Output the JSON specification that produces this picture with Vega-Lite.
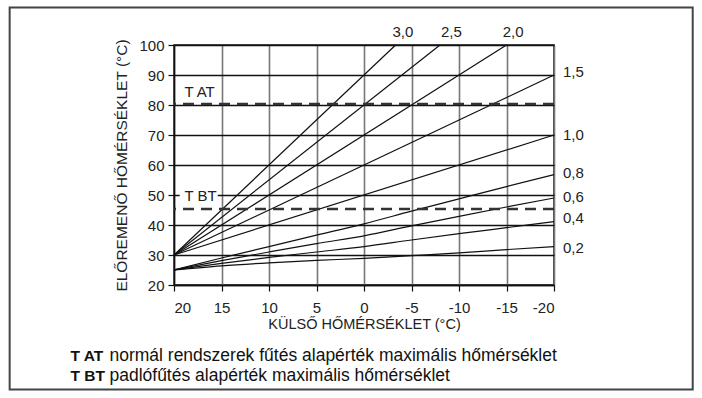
{
  "$schema": "https://vega.github.io/schema/vega-lite/v6.json",
  "width": 380,
  "height": 240,
  "autosize": "none",
  "padding": {"left": 174, "top": 45, "right": 148, "bottom": 113},
  "background": "white",
  "config": {
    "view": {"stroke": "#111", "strokeWidth": 1.5},
    "font": "Liberation Sans, Arial, sans-serif"
  },
  "datasets": {
    "curves": [
      {"k": "3,0", "t": 20, "v": 30}, {"k": "3,0", "t": -3.33, "v": 100},
      {"k": "2,5", "t": 20, "v": 30}, {"k": "2,5", "t": -8, "v": 100},
      {"k": "2,0", "t": 20, "v": 30}, {"k": "2,0", "t": -15, "v": 100},
      {"k": "1,5", "t": 20, "v": 30}, {"k": "1,5", "t": -20, "v": 90},
      {"k": "1,0", "t": 20, "v": 30}, {"k": "1,0", "t": -20, "v": 70},
      {"k": "0,8", "t": 20, "v": 25}, {"k": "0,8", "t": 15, "v": 29}, {"k": "0,8", "t": 10, "v": 32.8}, {"k": "0,8", "t": 5, "v": 36.6}, {"k": "0,8", "t": 0, "v": 40.4}, {"k": "0,8", "t": -5, "v": 44.6}, {"k": "0,8", "t": -10, "v": 48.7}, {"k": "0,8", "t": -15, "v": 52.8}, {"k": "0,8", "t": -20, "v": 56.8},
      {"k": "0,6", "t": 20, "v": 25}, {"k": "0,6", "t": 15, "v": 28.1}, {"k": "0,6", "t": 10, "v": 31}, {"k": "0,6", "t": 5, "v": 33.8}, {"k": "0,6", "t": 0, "v": 36.4}, {"k": "0,6", "t": -5, "v": 39.7}, {"k": "0,6", "t": -10, "v": 42.9}, {"k": "0,6", "t": -15, "v": 46}, {"k": "0,6", "t": -20, "v": 49},
      {"k": "0,4", "t": 20, "v": 25}, {"k": "0,4", "t": 15, "v": 27.2}, {"k": "0,4", "t": 10, "v": 29.2}, {"k": "0,4", "t": 5, "v": 31}, {"k": "0,4", "t": 0, "v": 32.8}, {"k": "0,4", "t": -5, "v": 35}, {"k": "0,4", "t": -10, "v": 37.1}, {"k": "0,4", "t": -15, "v": 39.1}, {"k": "0,4", "t": -20, "v": 41.1},
      {"k": "0,2", "t": 20, "v": 25}, {"k": "0,2", "t": 15, "v": 26.4}, {"k": "0,2", "t": 10, "v": 27.4}, {"k": "0,2", "t": 5, "v": 28.2}, {"k": "0,2", "t": 0, "v": 28.9}, {"k": "0,2", "t": -5, "v": 29.8}, {"k": "0,2", "t": -10, "v": 30.7}, {"k": "0,2", "t": -15, "v": 31.8}, {"k": "0,2", "t": -20, "v": 32.8}
    ],
    "toplabels": [
      {"k": "3,0", "t": -4.1, "v": 104.4},
      {"k": "2,5", "t": -9.2, "v": 104.4},
      {"k": "2,0", "t": -15.7, "v": 104.4}
    ],
    "sidelabels": [
      {"k": "1,5", "t": -20, "v": 90.9},
      {"k": "1,0", "t": -20, "v": 70},
      {"k": "0,8", "t": -20, "v": 57.2},
      {"k": "0,6", "t": -20, "v": 49.4},
      {"k": "0,4", "t": -20, "v": 42.2},
      {"k": "0,2", "t": -20, "v": 32.4}
    ],
    "limits": [
      {"name": "T AT", "t": 18.9, "v": 80.3, "lab": 84.2},
      {"name": "T BT", "t": 18.9, "v": 45.3, "lab": 49.8}
    ],
    "footer": [
      {"b": "T AT", "txt": "normál rendszerek fűtés alapérték maximális hőmérséklet", "t": 30.9, "row": -3.5},
      {"b": "T BT", "txt": "padlófűtés alapérték maximális hőmérséklet", "t": 30.9, "row": -10.2}
    ]
  },
  "layer": [
    {
      "data": {"name": "curves"},
      "mark": {"type": "line", "color": "#111", "strokeWidth": 1.2, "interpolate": "monotone"},
      "encoding": {
        "x": {
          "field": "t", "type": "quantitative", "title": "KÜLSŐ HŐMÉRSÉKLET (°C)",
          "scale": {"domain": [-20, 20], "reverse": true, "nice": false, "zero": false},
          "axis": {
            "values": [20, 15, 10, 5, 0, -5, -10, -15, -20],
            "labelExpr": "'' + datum.value",
            "labelOverlap": false,
            "title": "KÜLSŐ HŐMÉRSÉKLET (°C)",
            "titleFontSize": 14.5, "titleFontWeight": "normal", "titleColor": "#222",
            "titlePadding": 2,
            "labelFontSize": 15, "labelColor": "#222", "labelPadding": 9,
            "domainColor": "#111", "domainWidth": 1.5,
            "tickColor": "#111", "tickSize": 6, "tickWidth": 1.2,
            "grid": true, "gridColor": "#777", "gridWidth": 1.6
          }
        },
        "y": {
          "field": "v", "type": "quantitative", "title": "ELŐREMENŐ HŐMÉRSÉKLET (°C)",
          "scale": {"domain": [20, 100], "nice": false, "zero": false},
          "axis": {
            "values": [20, 30, 40, 50, 60, 70, 80, 90, 100],
            "labelOverlap": false,
            "title": "ELŐREMENŐ HŐMÉRSÉKLET (°C)",
            "titleFontSize": 15.5, "titleFontWeight": "normal", "titleColor": "#222",
            "titlePadding": 9,
            "labelFontSize": 15, "labelColor": "#222", "labelPadding": 4,
            "domainColor": "#111", "domainWidth": 1.5,
            "tickColor": "#111", "tickSize": 6, "tickWidth": 1.2,
            "grid": true, "gridColor": "#111", "gridWidth": 1.3
          }
        },
        "detail": {"field": "k", "type": "nominal"}
      }
    },
    {
      "data": {"name": "limits"},
      "mark": {"type": "rule", "color": "#333", "strokeWidth": 2.5, "strokeDash": [11, 7]},
      "encoding": {
        "y": {
          "field": "v", "type": "quantitative", "title": "ELŐREMENŐ HŐMÉRSÉKLET (°C)",
          "axis": {
            "values": [20, 30, 40, 50, 60, 70, 80, 90, 100],
            "labelOverlap": false,
            "title": "ELŐREMENŐ HŐMÉRSÉKLET (°C)",
            "titleFontSize": 15.5, "titleFontWeight": "normal", "titleColor": "#222",
            "titlePadding": 9,
            "labelFontSize": 15, "labelColor": "#222", "labelPadding": 4,
            "domainColor": "#111", "domainWidth": 1.5,
            "tickColor": "#111", "tickSize": 6, "tickWidth": 1.2,
            "grid": true, "gridColor": "#111", "gridWidth": 1.3
          }
        }
      }
    },
    {
      "data": {"name": "limits"},
      "transform": [{"filter": "datum.name === 'T BT'"}],
      "mark": {"type": "rect", "color": "white"},
      "encoding": {
        "x": {"datum": 19.4, "title": "KÜLSŐ HŐMÉRSÉKLET (°C)",
          "axis": {
            "values": [20, 15, 10, 5, 0, -5, -10, -15, -20],
            "labelExpr": "'' + datum.value",
            "labelOverlap": false,
            "title": "KÜLSŐ HŐMÉRSÉKLET (°C)",
            "titleFontSize": 14.5, "titleFontWeight": "normal", "titleColor": "#222",
            "titlePadding": 2,
            "labelFontSize": 15, "labelColor": "#222", "labelPadding": 9,
            "domainColor": "#111", "domainWidth": 1.5,
            "tickColor": "#111", "tickSize": 6, "tickWidth": 1.2,
            "grid": true, "gridColor": "#777", "gridWidth": 1.6
          }},
        "x2": {"datum": 15.4},
        "y": {"datum": 47.5, "title": "ELŐREMENŐ HŐMÉRSÉKLET (°C)",
          "axis": {
            "values": [20, 30, 40, 50, 60, 70, 80, 90, 100],
            "labelOverlap": false,
            "title": "ELŐREMENŐ HŐMÉRSÉKLET (°C)",
            "titleFontSize": 15.5, "titleFontWeight": "normal", "titleColor": "#222",
            "titlePadding": 9,
            "labelFontSize": 15, "labelColor": "#222", "labelPadding": 4,
            "domainColor": "#111", "domainWidth": 1.5,
            "tickColor": "#111", "tickSize": 6, "tickWidth": 1.2,
            "grid": true, "gridColor": "#111", "gridWidth": 1.3
          }},
        "y2": {"datum": 52.3}
      }
    },
    {
      "data": {"name": "limits"},
      "mark": {"type": "text", "align": "left", "baseline": "middle", "fontSize": 15, "color": "#222"},
      "encoding": {
        "x": {"field": "t", "type": "quantitative", "title": "KÜLSŐ HŐMÉRSÉKLET (°C)",
          "axis": {
            "values": [20, 15, 10, 5, 0, -5, -10, -15, -20],
            "labelExpr": "'' + datum.value",
            "labelOverlap": false,
            "title": "KÜLSŐ HŐMÉRSÉKLET (°C)",
            "titleFontSize": 14.5, "titleFontWeight": "normal", "titleColor": "#222",
            "titlePadding": 2,
            "labelFontSize": 15, "labelColor": "#222", "labelPadding": 9,
            "domainColor": "#111", "domainWidth": 1.5,
            "tickColor": "#111", "tickSize": 6, "tickWidth": 1.2,
            "grid": true, "gridColor": "#777", "gridWidth": 1.6
          }},
        "y": {"field": "lab", "type": "quantitative", "title": "ELŐREMENŐ HŐMÉRSÉKLET (°C)",
          "axis": {
            "values": [20, 30, 40, 50, 60, 70, 80, 90, 100],
            "labelOverlap": false,
            "title": "ELŐREMENŐ HŐMÉRSÉKLET (°C)",
            "titleFontSize": 15.5, "titleFontWeight": "normal", "titleColor": "#222",
            "titlePadding": 9,
            "labelFontSize": 15, "labelColor": "#222", "labelPadding": 4,
            "domainColor": "#111", "domainWidth": 1.5,
            "tickColor": "#111", "tickSize": 6, "tickWidth": 1.2,
            "grid": true, "gridColor": "#111", "gridWidth": 1.3
          }},
        "text": {"field": "name"}
      }
    },
    {
      "data": {"name": "toplabels"},
      "mark": {"type": "text", "align": "center", "baseline": "middle", "fontSize": 15, "color": "#222"},
      "encoding": {
        "x": {"field": "t", "type": "quantitative", "title": "KÜLSŐ HŐMÉRSÉKLET (°C)",
          "axis": {
            "values": [20, 15, 10, 5, 0, -5, -10, -15, -20],
            "labelExpr": "'' + datum.value",
            "labelOverlap": false,
            "title": "KÜLSŐ HŐMÉRSÉKLET (°C)",
            "titleFontSize": 14.5, "titleFontWeight": "normal", "titleColor": "#222",
            "titlePadding": 2,
            "labelFontSize": 15, "labelColor": "#222", "labelPadding": 9,
            "domainColor": "#111", "domainWidth": 1.5,
            "tickColor": "#111", "tickSize": 6, "tickWidth": 1.2,
            "grid": true, "gridColor": "#777", "gridWidth": 1.6
          }},
        "y": {"field": "v", "type": "quantitative", "title": "ELŐREMENŐ HŐMÉRSÉKLET (°C)",
          "axis": {
            "values": [20, 30, 40, 50, 60, 70, 80, 90, 100],
            "labelOverlap": false,
            "title": "ELŐREMENŐ HŐMÉRSÉKLET (°C)",
            "titleFontSize": 15.5, "titleFontWeight": "normal", "titleColor": "#222",
            "titlePadding": 9,
            "labelFontSize": 15, "labelColor": "#222", "labelPadding": 4,
            "domainColor": "#111", "domainWidth": 1.5,
            "tickColor": "#111", "tickSize": 6, "tickWidth": 1.2,
            "grid": true, "gridColor": "#111", "gridWidth": 1.3
          }},
        "text": {"field": "k"}
      }
    },
    {
      "data": {"name": "sidelabels"},
      "mark": {"type": "text", "align": "left", "baseline": "middle", "fontSize": 15, "color": "#222", "dx": 9},
      "encoding": {
        "x": {"field": "t", "type": "quantitative", "title": "KÜLSŐ HŐMÉRSÉKLET (°C)",
          "axis": {
            "values": [20, 15, 10, 5, 0, -5, -10, -15, -20],
            "labelExpr": "'' + datum.value",
            "labelOverlap": false,
            "title": "KÜLSŐ HŐMÉRSÉKLET (°C)",
            "titleFontSize": 14.5, "titleFontWeight": "normal", "titleColor": "#222",
            "titlePadding": 2,
            "labelFontSize": 15, "labelColor": "#222", "labelPadding": 9,
            "domainColor": "#111", "domainWidth": 1.5,
            "tickColor": "#111", "tickSize": 6, "tickWidth": 1.2,
            "grid": true, "gridColor": "#777", "gridWidth": 1.6
          }},
        "y": {"field": "v", "type": "quantitative", "title": "ELŐREMENŐ HŐMÉRSÉKLET (°C)",
          "axis": {
            "values": [20, 30, 40, 50, 60, 70, 80, 90, 100],
            "labelOverlap": false,
            "title": "ELŐREMENŐ HŐMÉRSÉKLET (°C)",
            "titleFontSize": 15.5, "titleFontWeight": "normal", "titleColor": "#222",
            "titlePadding": 9,
            "labelFontSize": 15, "labelColor": "#222", "labelPadding": 4,
            "domainColor": "#111", "domainWidth": 1.5,
            "tickColor": "#111", "tickSize": 6, "tickWidth": 1.2,
            "grid": true, "gridColor": "#111", "gridWidth": 1.3
          }},
        "text": {"field": "k"}
      }
    },
    {
      "data": {"name": "footer"},
      "mark": {"type": "text", "align": "left", "baseline": "middle", "fontSize": 15.5, "fontWeight": "bold", "color": "#111"},
      "encoding": {
        "x": {"field": "t", "type": "quantitative", "title": "KÜLSŐ HŐMÉRSÉKLET (°C)",
          "axis": {
            "values": [20, 15, 10, 5, 0, -5, -10, -15, -20],
            "labelExpr": "'' + datum.value",
            "labelOverlap": false,
            "title": "KÜLSŐ HŐMÉRSÉKLET (°C)",
            "titleFontSize": 14.5, "titleFontWeight": "normal", "titleColor": "#222",
            "titlePadding": 2,
            "labelFontSize": 15, "labelColor": "#222", "labelPadding": 9,
            "domainColor": "#111", "domainWidth": 1.5,
            "tickColor": "#111", "tickSize": 6, "tickWidth": 1.2,
            "grid": true, "gridColor": "#777", "gridWidth": 1.6
          }},
        "y": {"field": "row", "type": "quantitative", "title": "ELŐREMENŐ HŐMÉRSÉKLET (°C)",
          "axis": {
            "values": [20, 30, 40, 50, 60, 70, 80, 90, 100],
            "labelOverlap": false,
            "title": "ELŐREMENŐ HŐMÉRSÉKLET (°C)",
            "titleFontSize": 15.5, "titleFontWeight": "normal", "titleColor": "#222",
            "titlePadding": 9,
            "labelFontSize": 15, "labelColor": "#222", "labelPadding": 4,
            "domainColor": "#111", "domainWidth": 1.5,
            "tickColor": "#111", "tickSize": 6, "tickWidth": 1.2,
            "grid": true, "gridColor": "#111", "gridWidth": 1.3
          }},
        "text": {"field": "b"}
      }
    },
    {
      "data": {"name": "footer"},
      "mark": {"type": "text", "align": "left", "baseline": "middle", "fontSize": 17.5, "color": "#111", "dx": 39},
      "encoding": {
        "x": {"field": "t", "type": "quantitative", "title": "KÜLSŐ HŐMÉRSÉKLET (°C)",
          "axis": {
            "values": [20, 15, 10, 5, 0, -5, -10, -15, -20],
            "labelExpr": "'' + datum.value",
            "labelOverlap": false,
            "title": "KÜLSŐ HŐMÉRSÉKLET (°C)",
            "titleFontSize": 14.5, "titleFontWeight": "normal", "titleColor": "#222",
            "titlePadding": 2,
            "labelFontSize": 15, "labelColor": "#222", "labelPadding": 9,
            "domainColor": "#111", "domainWidth": 1.5,
            "tickColor": "#111", "tickSize": 6, "tickWidth": 1.2,
            "grid": true, "gridColor": "#777", "gridWidth": 1.6
          }},
        "y": {"field": "row", "type": "quantitative", "title": "ELŐREMENŐ HŐMÉRSÉKLET (°C)",
          "axis": {
            "values": [20, 30, 40, 50, 60, 70, 80, 90, 100],
            "labelOverlap": false,
            "title": "ELŐREMENŐ HŐMÉRSÉKLET (°C)",
            "titleFontSize": 15.5, "titleFontWeight": "normal", "titleColor": "#222",
            "titlePadding": 9,
            "labelFontSize": 15, "labelColor": "#222", "labelPadding": 4,
            "domainColor": "#111", "domainWidth": 1.5,
            "tickColor": "#111", "tickSize": 6, "tickWidth": 1.2,
            "grid": true, "gridColor": "#111", "gridWidth": 1.3
          }},
        "text": {"field": "txt"}
      }
    },
    {
      "data": {"values": [{"f": 1}]},
      "mark": {"type": "rect", "fill": null, "fillOpacity": 0, "stroke": "#444", "strokeWidth": 2},
      "encoding": {
        "x": {"datum": 37.3, "title": "KÜLSŐ HŐMÉRSÉKLET (°C)",
          "axis": {
            "values": [20, 15, 10, 5, 0, -5, -10, -15, -20],
            "labelExpr": "'' + datum.value",
            "labelOverlap": false,
            "title": "KÜLSŐ HŐMÉRSÉKLET (°C)",
            "titleFontSize": 14.5, "titleFontWeight": "normal", "titleColor": "#222",
            "titlePadding": 2,
            "labelFontSize": 15, "labelColor": "#222", "labelPadding": 9,
            "domainColor": "#111", "domainWidth": 1.5,
            "tickColor": "#111", "tickSize": 6, "tickWidth": 1.2,
            "grid": true, "gridColor": "#777", "gridWidth": 1.6
          }},
        "x2": {"datum": -34.6},
        "y": {"datum": 112.5, "title": "ELŐREMENŐ HŐMÉRSÉKLET (°C)",
          "axis": {
            "values": [20, 30, 40, 50, 60, 70, 80, 90, 100],
            "labelOverlap": false,
            "title": "ELŐREMENŐ HŐMÉRSÉKLET (°C)",
            "titleFontSize": 15.5, "titleFontWeight": "normal", "titleColor": "#222",
            "titlePadding": 9,
            "labelFontSize": 15, "labelColor": "#222", "labelPadding": 4,
            "domainColor": "#111", "domainWidth": 1.5,
            "tickColor": "#111", "tickSize": 6, "tickWidth": 1.2,
            "grid": true, "gridColor": "#111", "gridWidth": 1.3
          }},
        "y2": {"datum": -14.8}
      }
    }
  ]
}
